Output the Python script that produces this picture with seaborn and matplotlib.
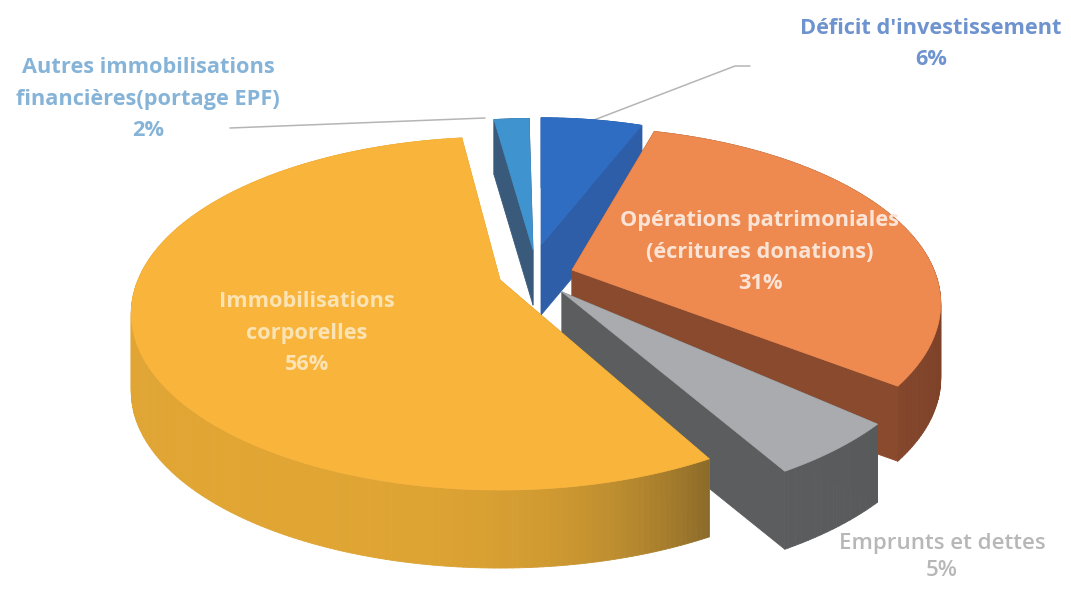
import numpy as np
import matplotlib
matplotlib.use("Agg")
import matplotlib.pyplot as plt
from matplotlib.collections import PolyCollection
from matplotlib.colors import to_rgb
from matplotlib.patches import Polygon
from matplotlib.transforms import Affine2D
import seaborn as sns

categories = ["Déficit d'investissement", "Opérations patrimoniales\n(écritures donations)",
              "Emprunts et dettes", "Immobilisations\ncorporelles",
              "Autres immobilisations\nfinancières(portage EPF)"]
values = [6, 31, 5, 56, 2]
top_colors = ["#2E6DC2", "#EE8A50", "#A9ABAE", "#F9B43C", "#3F93CF"]
side_near = ["#2F5EA8", "#8A4A2E", "#5C5D5F", "#E0A533", "#3A5A7C"]
side_far = ["#2F5EA8", "#7E4229", "#58595B", "#8A6A2A", "#3A5A7C"]
label_colors = ["#6E93CF", "#FBE4D6", "#B7B7B7", "#FBE3B4", "#86B4D8"]

apex = [(541, 245), (572, 270), (562, 292), (500, 280), (533, 250)]
scale = [0.89, 1.0, 1.02, 1.0, 0.92]
turn = [0, 6, 1.5, 0, 0.8]
depth = [70, 75, 78, 78, 55]
draw_order = [4, 0, 1, 2, 3]
label_xy = [(931, 44), (760, 252), (942, 557), (307, 333), (148, 99)]
label_weight = ["bold", "bold", "semibold", "bold", "bold"]
label_size = [15.7, 15.7, 16.0, 15.7, 15.7]
label_spacing = [1.68, 1.68, 1.4, 1.68, 1.68]

RADIUS, TILT, PERSP = 362.0, 0.47, 0.19

sns.set_theme(style="white")
plt.rcParams["font.family"] = ["Open Sans", "DejaVu Sans"]
fig = plt.figure(figsize=(10.71, 5.89), dpi=100, facecolor="white")
ax = fig.add_axes([0, 0, 1, 1])
wedges, _ = ax.pie(values, startangle=90, counterclock=False, colors=top_colors, radius=1.0)


def project(verts, i):
    u, v = verts[:, 0], verts[:, 1]
    w = 1 + PERSP * v
    x = apex[i][0] + scale[i] * RADIUS * u / w
    y = apex[i][1] - scale[i] * RADIUS * TILT * v / w
    return np.column_stack([x, y])


shapes = []
for i, wedge in enumerate(wedges):
    fine = Affine2D().rotate_deg(turn[i]).scale(2000)
    path = (wedge.get_patch_transform() + fine).transform_path(wedge.get_path())
    shapes.append(project(path.to_polygons()[0] / 2000, i))
    wedge.remove()

for z, i in enumerate(draw_order):
    pts = shapes[i]
    d = depth[i]
    a, b = pts[:-1], pts[1:]
    quads = np.stack([a, b, b + [0, d], a + [0, d]], axis=1)
    keep = np.abs(b[:, 0] - a[:, 0]) > 1e-6
    quads = quads[keep]
    quads = quads[np.argsort(quads[:, :, 1].mean(axis=1))]
    xm = quads[:, :, 0].mean(axis=1)
    t = np.clip((xm - pts[:, 0].min()) / max(np.ptp(pts[:, 0]), 1), 0, 1) ** 5
    near, far = np.array(to_rgb(side_near[i])), np.array(to_rgb(side_far[i]))
    cols = near[None, :] * (1 - t[:, None]) + far[None, :] * t[:, None]
    ax.add_collection(PolyCollection(quads, facecolors=cols, edgecolors=cols, linewidths=0.6, zorder=2 + z * 2))
    ax.add_patch(Polygon(pts, closed=True, facecolor=top_colors[i], edgecolor=top_colors[i],
                         linewidth=0.5, zorder=3 + z * 2))

ax.plot([594, 735, 750], [120, 66, 66], color="#B5B5B5", lw=1.1, zorder=1)
ax.plot([230, 485], [128, 118], color="#B5B5B5", lw=1.1, zorder=1)

for i, name in enumerate(categories):
    ax.text(label_xy[i][0], label_xy[i][1], f"{name}\n{values[i]}%", ha="center", va="center",
            color=label_colors[i], fontsize=label_size[i], fontweight=label_weight[i],
            linespacing=label_spacing[i], zorder=30)

ax.set_aspect("auto")
ax.set_xlim(0, 1071)
ax.set_ylim(589, 0)
ax.axis("off")
fig.savefig("out.png", dpi=100, facecolor="white")
